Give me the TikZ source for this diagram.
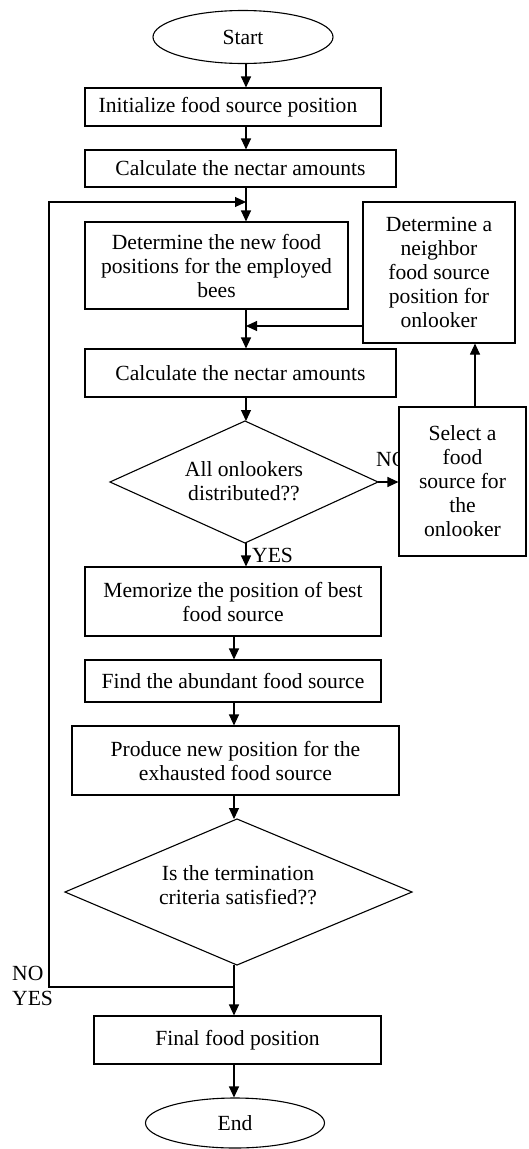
\documentclass[tikz,border=0pt]{standalone}
\usepackage{fontspec}
\setmainfont{Liberation Serif}
\usetikzlibrary{shapes.geometric,arrows.meta}
\begin{document}
\begin{tikzpicture}[x=1pt,y=-1pt,
  every node/.style={font=\fontsize{21.6}{24}\selectfont},
  box/.style={draw,line width=1.1pt,rectangle,inner sep=0pt,align=center,fill=white},
  term/.style={draw,line width=1.1pt,ellipse,inner sep=0pt},
  arr/.style={line width=1.1pt,-{Triangle[length=11pt,width=10pt]}},
  lbl/.style={inner sep=0pt}]
\useasboundingbox (0,0) rectangle (528,1149);
% column references
\coordinate (colA) at (246,0);
\coordinate (colB) at (234,0);
\coordinate (colR) at (475,0);
\coordinate (colL) at (49,0);
% nodes
\node[term,minimum width=180pt,minimum height=53pt] (start) at (243,37) {Start};
\node[box,minimum width=296pt,minimum height=38pt] (init) at (233,107) {Initialize food source position\hspace{10pt}};
\node[box,minimum width=311pt,minimum height=37pt] (calc1) at (240.5,168.5) {Calculate the nectar amounts};
\node[box,minimum width=263pt,minimum height=87pt] (emp) at (216.5,265.5) {Determine the new food\\positions for the employed\\bees};
\node[box,minimum width=152pt,minimum height=141pt] (neigh) at (439,272.5) {Determine a\\neighbor\\food source\\position for\\onlooker};
\node[box,minimum width=311pt,minimum height=48pt] (calc2) at (240.5,373) {Calculate the nectar amounts};
% diamond 1
\coordinate (d1n) at (245,421);
\coordinate (d1s) at (245,543);
\coordinate (d1w) at (110,482);
\coordinate (d1e) at (378,482);
\draw[line width=1.1pt] (d1n) -- (d1e) -- (d1s) -- (d1w) -- cycle;
\node[align=center] (d1) at (244,481) {All onlookers\\distributed??};
\node[lbl,anchor=west] (no1) at (376,459) {NO};
\node[box,minimum width=127pt,minimum height=149pt] (sel) at (462.5,481.5) {Select a\\food\\source for\\the\\onlooker};
\node[lbl,anchor=west] (yes1) at (252,555) {YES};
\node[box,minimum width=296pt,minimum height=69pt] (mem) at (233,601.5) {Memorize the position of best\\food source};
\node[box,minimum width=296pt,minimum height=42pt] (find) at (233,681) {Find the abundant food source};
\node[box,minimum width=327pt,minimum height=69pt] (prod) at (235.5,760.5) {Produce new position for the\\exhausted food source};
% diamond 2
\coordinate (d2n) at (237,819);
\coordinate (d2s) at (237,965);
\coordinate (d2w) at (65,892);
\coordinate (d2e) at (412,892);
\draw[line width=1.1pt] (d2n) -- (d2e) -- (d2s) -- (d2w) -- cycle;
\node[align=center] (d2) at (238,885) {Is the termination\\criteria satisfied??};
\node[lbl,anchor=west] (no2) at (12,973) {NO};
\node[lbl,anchor=west] (yes2) at (12,998) {YES};
\node[box,minimum width=287pt,minimum height=48pt] (final) at (237.5,1040) {Final food position};
\node[term,minimum width=179pt,minimum height=50pt] (end) at (235,1123) {End};
% junctions
\coordinate (jA) at (246,202);
\coordinate (jB) at (234,987);
\coordinate (jR) at (0,326);
% connectors
\draw[arr] (start.south -| colA) -- (init.north -| colA);
\draw[arr] (init.south -| colA) -- (calc1.north -| colA);
\draw[arr] (calc1.south -| colA) -- (emp.north -| colA);
\draw[arr] (emp.south -| colA) -- (calc2.north -| colA);
\draw[arr] (calc2.south -| colA) -- (d1n -| colA);
\draw[arr] (d1s -| colA) -- (mem.north -| colA);
\draw[arr] (d1e) -- (sel.west |- d1e);
\draw[arr] (sel.north -| colR) -- (neigh.south -| colR);
\draw[arr] (neigh.west |- jR) -- (jR -| colA);
\draw[arr] (mem.south -| colB) -- (find.north -| colB);
\draw[arr] (find.south -| colB) -- (prod.north -| colB);
\draw[arr] (prod.south -| colB) -- (d2n -| colB);
\draw[arr] (d2s -| colB) -- (final.north -| colB);
\draw[arr] (final.south -| colB) -- (end.north -| colB);
\draw[arr] (jB) -- (jB -| colL) -- (jA -| colL) -- (jA);
\end{tikzpicture}
\end{document}
